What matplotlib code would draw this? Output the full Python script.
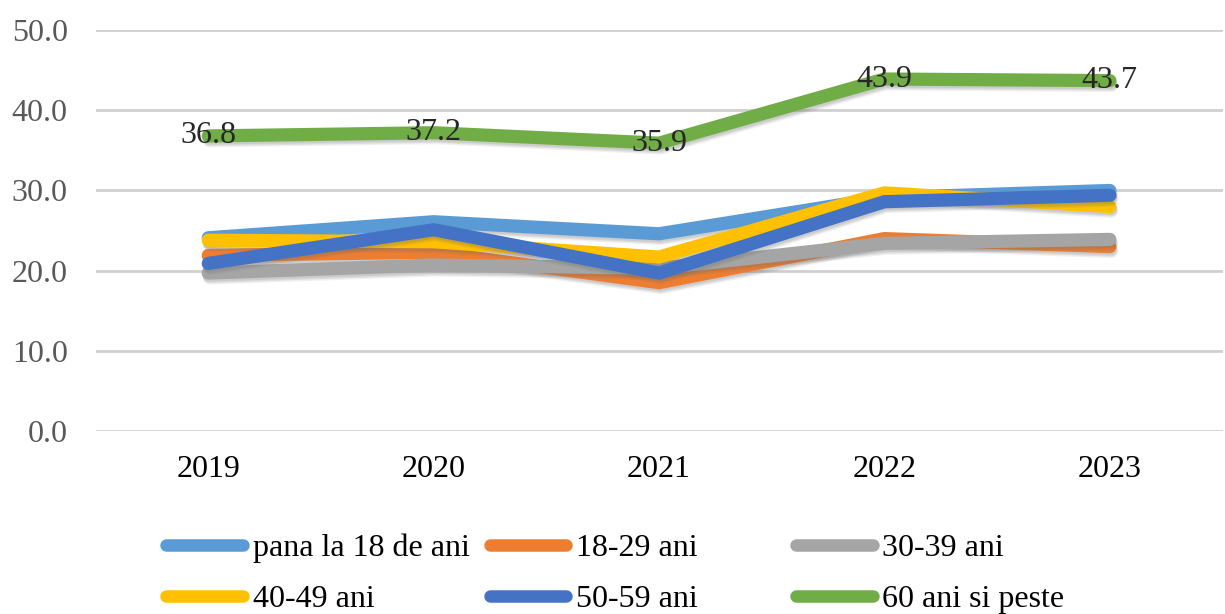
import matplotlib.pyplot as plt
import matplotlib.patheffects as pe
import numpy as np

plt.rcParams['font.family'] = ['Liberation Serif', 'DejaVu Serif']

years = ['2019', '2020', '2021', '2022', '2023']
grupe = ['pana la 18 de ani', '18-29 ani', '30-39 ani',
         '40-49 ani', '50-59 ani', '60 ani si peste']
pana_18 = [24.1, 26.1, 24.6, 29.1, 30.0]
ani_18_29 = [21.9, 22.3, 18.5, 24.0, 23.0]
ani_30_39 = [19.7, 20.7, 20.3, 23.4, 23.9]
ani_40_49 = [23.8, 23.6, 21.7, 29.7, 28.0]
ani_50_59 = [20.9, 25.1, 19.7, 28.6, 29.4]
ani_60_plus = [36.8, 37.2, 35.9, 43.9, 43.7]
culori = ['#5b9bd5', '#ed7d31', '#a5a5a5', '#ffc000', '#4472c4', '#70ad47']

serii = [pana_18, ani_18_29, ani_30_39, ani_40_49, ani_50_59, ani_60_plus]

fig = plt.figure(figsize=(12.25, 6.14), dpi=100)
ax = fig.add_axes([0.078, 0.298, 0.92, 0.653])

x = np.arange(len(years))
# umbra moale sub linii (cateva straturi suprapuse)
umbra = [pe.SimpleLineShadow(offset=(1, -3.5), shadow_color='#707070', alpha=0.10),
         pe.SimpleLineShadow(offset=(1, -2.5), shadow_color='#707070', alpha=0.15),
         pe.SimpleLineShadow(offset=(0.5, -1.5), shadow_color='#707070', alpha=0.15),
         pe.Normal()]

linii = []
for vals, nume, c in zip(serii, grupe, culori):
    l, = ax.plot(x, vals, color=c, lw=9.5, label=nume,
                 solid_capstyle='round', solid_joinstyle='miter',
                 path_effects=umbra)
    linii.append(l)

# etichete pentru seria 60+
for xi, v in zip(x, ani_60_plus):
    ax.text(xi, v, f'{v:.1f}', ha='center', va='center', fontsize=23,
            color='#262626', zorder=5)

ax.set_xlim(-0.5, 4.5)
ax.set_ylim(0, 50)
ax.set_yticks(np.arange(0, 51, 10))
ax.set_yticklabels([f'{t:.1f}' for t in np.arange(0, 51, 10)])
ax.set_xticks(x)
ax.set_xticklabels(years)
ax.tick_params(axis='y', length=0, labelsize=23, labelcolor='#595959', pad=20)
ax.tick_params(axis='x', length=0, labelsize=23, labelcolor='black', pad=17)
ax.grid(axis='y', color='#d0d0d0', lw=2)
ax.set_axisbelow(True)
for s in ax.spines.values():
    s.set_visible(False)

# legenda pe trei coloane cu latime egala
coloane = [(0, 3), (1, 4), (2, 5)]
x_col = [0.128, 0.392, 0.642]
for (i, j), xc in zip(coloane, x_col):
    leg = fig.legend([linii[i], linii[j]], [grupe[i], grupe[j]],
                     loc='lower left', bbox_to_anchor=(xc, -0.016),
                     frameon=False, fontsize=23, handlelength=2.4,
                     handletextpad=0.3, labelspacing=0.68,
                     borderpad=0.3, borderaxespad=0.0)
    for h in leg.legend_handles:
        h.set_path_effects([])
        h.set_linewidth(9)

fig.savefig('out.png', dpi=100)
